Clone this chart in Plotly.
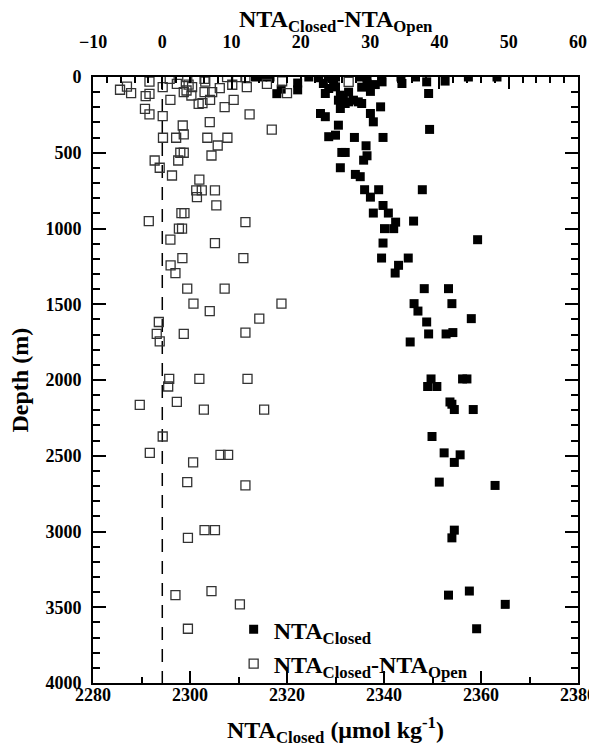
import plotly.graph_objects as go

# ---- data ----
# NTA_Closed (bottom axis, umol/kg) vs depth (m)
closed_nta = [2313.5, 2315.0, 2316.5, 2324.5, 2326.5, 2328.5, 2330.0, 2335.0, 2336.5, 2339.5,
              2343.5, 2346.5, 2357.4, 2363.3,
              2322.2, 2322.2, 2317.9, 2318.8, 2327.5, 2327.9, 2328.6, 2330.0, 2329.6, 2331.0,
              2332.7, 2335.4, 2336.5, 2337.2, 2338.2, 2339.6, 2343.7, 2349.2, 2348.8, 2352.6,
              2330.6, 2331.6, 2332.7, 2331.0, 2332.0, 2333.7, 2334.7, 2335.4, 2339.3,
              2326.9, 2327.9, 2337.2, 2337.8, 2330.6, 2328.6, 2330.0, 2333.9, 2339.8, 2349.4,
              2336.3, 2331.3, 2332.0, 2336.5, 2335.8, 2331.0, 2334.1, 2335.1,
              2336.0, 2338.9, 2347.9, 2337.2, 2339.8, 2337.8, 2340.9, 2342.4, 2346.1, 2340.1,
              2342.0, 2339.8, 2359.3, 2339.5, 2345.0, 2343.0, 2342.3, 2348.3, 2353.3, 2346.2,
              2354.0, 2347.0, 2358.0, 2348.8, 2349.2, 2352.8, 2354.2, 2345.4,
              2349.7, 2356.2, 2357.1, 2349.0, 2350.9, 2353.6, 2354.0, 2354.5, 2358.4, 2349.9,
              2352.4, 2355.7, 2354.5, 2351.4, 2362.9, 2354.5, 2354.0, 2353.3, 2357.6, 2365.0,
              2359.1]
closed_depth = [0, 0, 0, 0, 5, 0, 0, 0, 0, 0,
                0, 0, 0, 0,
                40, 85, 110, 80, 43, 109, 76, 65, 32, 120,
                100, 67, 45, 95, 50, 32, 43, 109, 32, 27,
                153, 142, 164, 208, 175, 153, 164, 175, 197,
                241, 262, 241, 296, 318, 394, 384, 399, 399, 346,
                454, 498, 498, 520, 549, 599, 643, 658,
                744, 744, 744, 793, 848, 898, 898, 958, 951, 1001,
                1001, 1096, 1074, 1195, 1195, 1243, 1294, 1397, 1397, 1496,
                1496, 1545, 1595, 1617, 1696, 1696, 1687, 1749,
                1993, 1993, 1993, 2043, 2043, 2145, 2160, 2195, 2195, 2373,
                2481, 2494, 2544, 2674, 2696, 2991, 3042, 3420, 3393, 3481,
                3642]

# NTA_Closed - NTA_Open (top axis) vs depth (m)
diff_nta = [-6.1, -5.1, -4.5, -2.4, -1.85, -2.5, -1.85, -1.85, 0.06, 0.06,
            1.07, 1.17, 2.1, 3.6, 3.1, 3.8, 4.3, 4.2, 3.5, 5.25,
            5.8, 6.1, 6.2, 6.1, 6.9, 7.2, 8.3, 9.0, 9.35, 10.1,
            10.3, 10.8, 12.0, 12.2, 12.6, 15.1, 15.8, 17.3, 18.0, 26.9,
            2.95, 6.85, 3.1, 2.0, 0.1, 6.5, 9.4, 8.0, 2.6, 3.1,
            7.1, 2.3, -1.1, -0.37, 1.4, 5.35, 4.9, 5.7, 7.6, 5.0,
            7.8, 2.76, 3.2, -1.95, 12.0, 2.4, 2.85, 1.17, 7.6,
            2.9, 11.7, 1.2, 1.9, 3.6, 9.0, 4.5, 17.2, 6.85, 14.0,
            -0.5, -0.8, -0.37, 3.1, 12.0, 1.0, 0.85, 5.35, 12.3, -3.25,
            2.1, 6.0, 14.7, 0.06, -1.8, 8.4, 9.5, 4.45, 3.6, 12.0,
            6.1, 7.6, 3.7, 1.9, 7.1, 11.2, 3.7]
diff_depth = [84, 63, 107, 126, 111, 210, 247, 30, 67, 258,
              12, 151, 45, 1, 100, 50, 67, 122, 89, 177,
              173, 12, 30, 100, 151, 100, 74, 199, 1, 51,
              151, 1, 1, 67, 247, 45, 348, 28, 107, 32,
              320, 298, 379, 401, 401, 401, 401, 452, 500, 500,
              518, 551, 551, 599, 650, 678, 749, 749, 749, 793,
              848, 898, 898, 951, 958, 1001, 1001, 1074, 1096,
              1195, 1195, 1243, 1294, 1397, 1397, 1496, 1496, 1545, 1595,
              1617, 1696, 1745, 1696, 1687, 1993, 2043, 1993, 1993, 2164,
              2145, 2195, 2195, 2373, 2481, 2494, 2494, 2544, 2674, 2696,
              2991, 2991, 3042, 3420, 3393, 3481, 3642]

zero_line_x = [0, 0]
zero_line_depth = [0, 4000]

bottom_range = [2280, 2380]
top_range = [-10, 60]
depth_range = [4000, 0]

FONT = "Liberation Serif, Times New Roman, serif"

fig = go.Figure()
fig.add_trace(go.Scatter(
    x=zero_line_x, y=zero_line_depth, xaxis="x2", yaxis="y", mode="lines",
    line=dict(color="black", width=1.5, dash="13px,9px"), showlegend=False,
    hoverinfo="skip"))
fig.add_trace(go.Scatter(
    x=closed_nta, y=closed_depth, mode="markers", name="NTA<sub>Closed</sub>",
    marker=dict(symbol="square", size=9, color="black"),
    xaxis="x", yaxis="y"))
fig.add_trace(go.Scatter(
    x=diff_nta, y=diff_depth, mode="markers", name="NTA<sub>Closed</sub>-NTA<sub>Open</sub>",
    marker=dict(symbol="square-open", size=9, color="#333333", line=dict(width=1.3)),
    xaxis="x2", yaxis="y"))

tickfont = dict(family=FONT, size=18, color="black", weight="bold")

# page body has an 8px default margin, so the figure is 8px smaller than the window
fig.update_layout(
    width=589, height=738,
    margin=dict(l=84.5, r=19, t=68.5, b=63, pad=0, autoexpand=False),
    paper_bgcolor="white", plot_bgcolor="white",
    font=dict(family=FONT, color="black"),
    showlegend=True,
    legend=dict(x=0.29, y=0.125, xanchor="left", yanchor="top",
                bgcolor="rgba(0,0,0,0)", borderwidth=0,
                font=dict(family=FONT, size=24, color="black", weight="bold"),
                itemwidth=30, tracegroupgap=0),
    xaxis=dict(range=bottom_range, dtick=20, tick0=2280, showgrid=False, zeroline=False,
               automargin=False,
               showline=True, linecolor="black", linewidth=2,
               ticks="inside", ticklen=12, tickwidth=1.5, tickcolor="black",
               minor=dict(dtick=10, ticks="inside", ticklen=6, tickwidth=1.5, tickcolor="black"),
               tickfont=tickfont, ticklabelstandoff=-6),
    xaxis2=dict(range=top_range, dtick=10, tick0=-10, overlaying="x", side="top",
                showgrid=False, zeroline=False, automargin=False,
                showline=True, linecolor="black", linewidth=2,
                ticks="inside", ticklen=12, tickwidth=1.5, tickcolor="black",
                minor=dict(dtick=2, ticks="inside", ticklen=6, tickwidth=1.5, tickcolor="black"),
                tickfont=tickfont, ticklabelstandoff=20),
    yaxis=dict(range=depth_range, dtick=500, tick0=0, showgrid=False, zeroline=False,
               automargin=False,
               showline=True, linecolor="black", linewidth=2, mirror="ticks",
               ticks="inside", ticklen=13, tickwidth=1.5, tickcolor="black",
               minor=dict(dtick=100, ticks="inside", ticklen=7, tickwidth=1.5, tickcolor="black"),
               tickfont=tickfont, ticklabelstandoff=6),
    annotations=[
        dict(text="NTA<sub>Closed</sub>-NTA<sub>Open</sub>", xref="paper", yref="paper",
             x=0.5, y=1, yshift=76.5 - 20, showarrow=False, xanchor="center", yanchor="middle",
             font=dict(family=FONT, size=24, color="black", weight="bold")),
        dict(text="NTA<sub>Closed</sub> (\u03bcmol kg<sup>-1</sup>)", xref="paper", yref="paper",
             x=0.5, y=0, yshift=-(730 - 683), showarrow=False, xanchor="center", yanchor="middle",
             font=dict(family=FONT, size=24, color="black", weight="bold")),
        dict(text="Depth (m)", xref="paper", yref="paper", textangle=-90,
             x=0, y=0.5, xshift=-(92.5 - 19), showarrow=False, xanchor="center", yanchor="middle",
             font=dict(family=FONT, size=24, color="black", weight="bold")),
    ],
)

fig.write_html("out.html")
